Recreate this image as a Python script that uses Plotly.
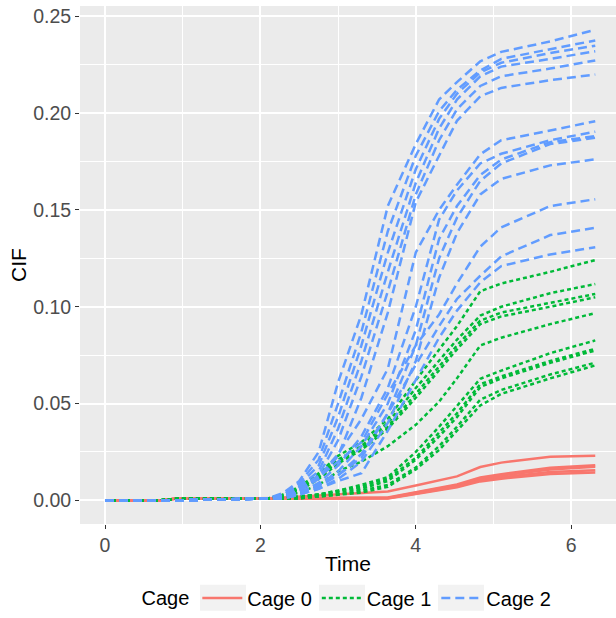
import plotly.graph_objects as go

# Common time grid for all cumulative incidence curves
time_grid = [0, 0.7, 0.9, 2.1, 2.3, 2.5, 2.75, 3.0, 3.3, 3.64, 4.0, 4.3, 4.53, 4.83, 5.1, 5.73, 6.31]

# Cage 0 curves
cage0_curves = [
    [0, 0, 0.0008, 0.001, 0.0015, 0.002, 0.0025, 0.003, 0.0038, 0.0046, 0.0077, 0.0103, 0.0124, 0.0172, 0.0195, 0.0225, 0.0230],
    [0, 0, 0.0008, 0.001, 0.001, 0.001, 0.001, 0.0012, 0.0013, 0.0015, 0.0042, 0.0064, 0.0082, 0.0118, 0.0135, 0.0168, 0.0182],
    [0, 0, 0.0008, 0.001, 0.001, 0.001, 0.001, 0.0011, 0.0012, 0.0013, 0.0039, 0.0061, 0.0078, 0.0112, 0.0128, 0.0160, 0.0173],
    [0, 0, 0.0008, 0.001, 0.001, 0.001, 0.001, 0.001, 0.001, 0.0011, 0.0035, 0.0056, 0.0072, 0.0104, 0.0119, 0.0146, 0.0156],
    [0, 0, 0.0008, 0.001, 0.001, 0.001, 0.001, 0.001, 0.001, 0.001, 0.0033, 0.0052, 0.0068, 0.0098, 0.0112, 0.0136, 0.0144],
]

# Cage 1 curves
cage1_curves = [
    [0, 0, 0.0008, 0.001, 0.003, 0.007, 0.014, 0.023, 0.030, 0.042, 0.062, 0.078, 0.090, 0.108, 0.112, 0.118, 0.1241],
    [0, 0, 0.0008, 0.001, 0.003, 0.006, 0.013, 0.021, 0.028, 0.040, 0.058, 0.072, 0.083, 0.0954, 0.100, 0.107, 0.1117],
    [0, 0, 0.0008, 0.001, 0.003, 0.006, 0.012, 0.020, 0.027, 0.038, 0.055, 0.069, 0.080, 0.0928, 0.097, 0.102, 0.1066],
    [0, 0, 0.0008, 0.001, 0.002, 0.005, 0.011, 0.019, 0.026, 0.037, 0.053, 0.067, 0.078, 0.091, 0.095, 0.100, 0.1049],
    [0, 0, 0.0008, 0.001, 0.002, 0.004, 0.008, 0.015, 0.020, 0.028, 0.039, 0.051, 0.063, 0.080, 0.084, 0.091, 0.0967],
    [0, 0, 0.0008, 0.001, 0.001, 0.002, 0.003, 0.005, 0.008, 0.012, 0.025, 0.038, 0.049, 0.0628, 0.067, 0.076, 0.0826],
    [0, 0, 0.0008, 0.001, 0.001, 0.002, 0.003, 0.005, 0.007, 0.011, 0.022, 0.035, 0.045, 0.060, 0.064, 0.072, 0.0783],
    [0, 0, 0.0008, 0.001, 0.001, 0.002, 0.003, 0.004, 0.006, 0.010, 0.021, 0.033, 0.043, 0.0585, 0.063, 0.071, 0.0774],
    [0, 0, 0.0008, 0.001, 0.001, 0.001, 0.002, 0.003, 0.005, 0.008, 0.017, 0.028, 0.038, 0.052, 0.057, 0.065, 0.0711],
    [0, 0, 0.0008, 0.001, 0.001, 0.001, 0.002, 0.003, 0.004, 0.007, 0.016, 0.026, 0.036, 0.049, 0.055, 0.063, 0.0697],
]

# Cage 2 curves
cage2_curves = [
    [0, 0, 0, 0.001, 0.004, 0.010, 0.025, 0.061, 0.096, 0.152, 0.184, 0.207, 0.216, 0.2267, 0.2316, 0.237, 0.243],
    [0, 0, 0, 0.001, 0.003, 0.009, 0.021, 0.050, 0.087, 0.139, 0.178, 0.201, 0.212, 0.222, 0.228, 0.233, 0.2375],
    [0, 0, 0, 0.001, 0.003, 0.008, 0.018, 0.043, 0.080, 0.128, 0.171, 0.197, 0.210, 0.221, 0.226, 0.231, 0.2348],
    [0, 0, 0, 0.001, 0.002, 0.007, 0.015, 0.037, 0.072, 0.118, 0.164, 0.192, 0.207, 0.219, 0.224, 0.228, 0.2319],
    [0, 0, 0, 0.001, 0.002, 0.006, 0.013, 0.031, 0.064, 0.108, 0.158, 0.186, 0.202, 0.214, 0.219, 0.223, 0.2272],
    [0, 0, 0, 0.001, 0.002, 0.005, 0.011, 0.023, 0.053, 0.097, 0.154, 0.178, 0.196, 0.2087, 0.213, 0.217, 0.2199],
    [0, 0, 0, 0.001, 0.002, 0.005, 0.012, 0.024, 0.042, 0.068, 0.128, 0.150, 0.163, 0.1787, 0.186, 0.191, 0.1958],
    [0, 0, 0, 0.001, 0.002, 0.004, 0.009, 0.018, 0.033, 0.058, 0.100, 0.145, 0.160, 0.174, 0.179, 0.186, 0.1904],
    [0, 0, 0, 0.001, 0.002, 0.004, 0.008, 0.015, 0.028, 0.050, 0.088, 0.135, 0.152, 0.168, 0.176, 0.185, 0.1881],
    [0, 0, 0, 0.001, 0.001, 0.003, 0.007, 0.013, 0.024, 0.045, 0.080, 0.125, 0.146, 0.165, 0.174, 0.184, 0.1873],
    [0, 0, 0, 0.001, 0.001, 0.003, 0.006, 0.011, 0.020, 0.040, 0.072, 0.115, 0.138, 0.158, 0.166, 0.173, 0.1761],
    [0, 0, 0, 0.001, 0.002, 0.005, 0.012, 0.020, 0.030, 0.055, 0.080, 0.096, 0.112, 0.131, 0.141, 0.152, 0.1555],
    [0, 0, 0, 0.001, 0.002, 0.004, 0.008, 0.013, 0.022, 0.045, 0.070, 0.090, 0.104, 0.116, 0.126, 0.137, 0.1408],
    [0, 0, 0, 0.001, 0.001, 0.003, 0.006, 0.010, 0.014, 0.036, 0.062, 0.084, 0.098, 0.1126, 0.121, 0.127, 0.1307],
]

group_names = ["Cage 0", "Cage 1", "Cage 2"]
group_colors = ["#F8766D", "#00BA38", "#619CFF"]
group_dashes = ["solid", "4px,3px", "9px,5px"]

x_ticks = [0, 2, 4, 6]
y_ticks = [0.00, 0.05, 0.10, 0.15, 0.20, 0.25]
y_tick_text = ["0.00", "0.05", "0.10", "0.15", "0.20", "0.25"]

FONT = "Liberation Sans, Arial, sans-serif"

# page geometry of the panel (pixels), used to place the legend key backgrounds
W, H = 616, 618
M_L, M_R, M_T, M_B = 80, 0, 6, 92
PLOT_W = W - M_L - M_R
PLOT_H = H - M_T - M_B

fig = go.Figure()
for name, color, dash, curves in zip(group_names, group_colors, group_dashes,
                                     [cage0_curves, cage1_curves, cage2_curves]):
    for i, cif in enumerate(curves):
        fig.add_trace(go.Scatter(
            x=time_grid, y=cif, mode="lines", name=name, legendgroup=name,
            showlegend=(i == 0),
            line=dict(color=color, width=2.5, dash=dash),
            hoverinfo="skip",
        ))

# light grey key backgrounds behind the legend swatches (ggplot-style legend keys)
key_centers_px = [223, 342, 461]
key_w, key_h, key_cy = 46, 26, 600
for cx in key_centers_px:
    fig.add_shape(
        type="rect", xref="paper", yref="paper", layer="below",
        x0=(cx - key_w / 2 - M_L) / PLOT_W, x1=(cx + key_w / 2 - M_L) / PLOT_W,
        y0=(H - M_B - (key_cy + key_h / 2)) / PLOT_H, y1=(H - M_B - (key_cy - key_h / 2)) / PLOT_H,
        fillcolor="#F2F2F2", line=dict(width=0),
    )

fig.update_layout(
    width=W, height=H,
    margin=dict(l=M_L, r=M_R, t=M_T, b=M_B),
    paper_bgcolor="white",
    plot_bgcolor="#EBEBEB",
    font=dict(family=FONT, size=19, color="#4D4D4D"),
    showlegend=True,
    legend=dict(
        orientation="h", x=0.5, xanchor="center", y=-0.143, yanchor="middle",
        title=dict(text="Cage", side="left", font=dict(size=20, color="black")),
        font=dict(size=20, color="black"),
        itemwidth=40, traceorder="normal", bgcolor="rgba(0,0,0,0)",
    ),
)

fig.update_xaxes(
    range=[-0.322, 6.577],
    tickmode="array", tickvals=x_ticks, ticktext=[str(v) for v in x_ticks],
    showgrid=True, gridcolor="white", gridwidth=1.8,
    minor=dict(dtick=1, tick0=0, showgrid=True, gridcolor="white", gridwidth=0.9),
    zeroline=False, showline=False,
    ticks="outside", ticklen=4, tickwidth=1.1, tickcolor="#333333",
    tickfont=dict(size=19.5, color="#4D4D4D"),
    title=dict(text="Time", font=dict(size=21, color="black"), standoff=0),
)
fig.update_yaxes(
    range=[-0.0122, 0.2553],
    tickmode="array", tickvals=y_ticks, ticktext=y_tick_text,
    showgrid=True, gridcolor="white", gridwidth=1.8,
    minor=dict(dtick=0.025, tick0=0, showgrid=True, gridcolor="white", gridwidth=0.9),
    zeroline=False, showline=False,
    ticks="outside", ticklen=4, tickwidth=1.1, tickcolor="#333333",
    tickfont=dict(size=19.5, color="#4D4D4D"),
    title=dict(text="CIF", font=dict(size=21, color="black"), standoff=0),
)

fig.write_html("out.html")
